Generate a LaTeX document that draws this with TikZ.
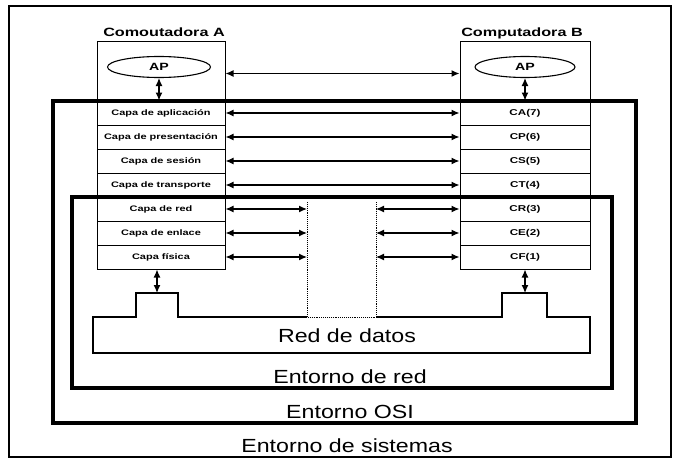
\documentclass[tikz,border=0pt]{standalone}
\usepackage{fontspec}
\setmainfont{Liberation Sans}
\newfontfamily\bigfont[FakeStretch=1.22]{Liberation Sans}
\newfontfamily\compfont[FakeStretch=1.35]{Liberation Sans Bold}
\newfontfamily\rowfont[FakeStretch=1.37]{Liberation Sans Bold}
\usetikzlibrary{arrows.meta,shapes.geometric,calc}
\begin{document}
\begin{tikzpicture}[x=1pt,y=-1pt,
  rowbox/.style={draw,line width=1pt,minimum width=128pt,minimum height=24pt,inner sep=0pt,font=\rowfont\fontsize{8}{9}\selectfont},
  rowboxb/.style={rowbox,minimum width=130pt,font=\rowfont\fontsize{8.5}{9}\selectfont},
  topbox/.style={draw,line width=1pt,minimum height=59pt,inner sep=0pt},
  apnode/.style={draw,ellipse,line width=1.1pt,minimum height=21pt,inner sep=0pt,font=\compfont\fontsize{10.5}{12}\selectfont},
  frame/.style={line width=3.8pt},
  thinframe/.style={line width=2pt},
  dbl/.style={{Latex[length=8pt,width=7pt]}-{Latex[length=8pt,width=7pt]},line width=1.2pt},
  big/.style={font=\bigfont\fontsize{19}{22}\selectfont,inner sep=0pt,anchor=base},
  comp/.style={font=\compfont\fontsize{12}{14}\selectfont,inner sep=0pt,anchor=base},
  net/.style={line width=1.2pt},
  dots/.style={densely dotted,line width=0.9pt}
]
\useasboundingbox (0,0) rectangle (674,460);

% Computer A
\node[topbox,minimum width=128pt] (topA) at (161,71.5) {};
\node[rowbox] (a7) at (161,113) {Capa de aplicación};
\node[rowbox] (a6) at (161,137) {Capa de presentación};
\node[rowbox] (a5) at (161,161) {Capa de sesión};
\node[rowbox] (a4) at (161,185) {Capa de transporte};
\node[rowbox] (a3) at (161,209) {Capa de red};
\node[rowbox] (a2) at (161,233) {Capa de enlace};
\node[rowbox] (a1) at (161,257) {Capa física};
\node[apnode,minimum width=103pt] (apA) at (159,67) {AP};

% Computer B
\node[topbox,minimum width=130pt] (topB) at (525,71.5) {};
\node[rowboxb] (b7) at (525,113) {CA(7)};
\node[rowboxb] (b6) at (525,137) {CP(6)};
\node[rowboxb] (b5) at (525,161) {CS(5)};
\node[rowboxb] (b4) at (525,185) {CT(4)};
\node[rowboxb] (b3) at (525,209) {CR(3)};
\node[rowboxb] (b2) at (525,233) {CE(2)};
\node[rowboxb] (b1) at (525,257) {CF(1)};
\node[apnode,minimum width=100pt] (apB) at (525,67) {AP};

% labels
\node[comp] (lA) at (164,37) {Comoutadora A};
\node[comp] (lB) at (522,37) {Computadora B};

% frames
\draw[thinframe] (9,6) rectangle (671,457);
\draw[frame] (53,101) rectangle (636,423);
\draw[frame] (72,197) rectangle (612,388);

% network
\coordinate (bumpA) at (157,293);
\coordinate (bumpB) at (525,293);
\coordinate (dL) at (307,202);
\coordinate (dR) at (376,202);
\draw[net] (307,317) -- (178,317) -- (178,293) -- (136,293) -- (136,317) -- (93,317) -- (93,353) -- (590,353) -- (590,317) -- (547,317) -- (547,293) -- (502,293) -- (502,317) -- (376,317);
\draw[dots] (dL) -- (307,317) -- (376,317) -- (dR);

% arrows
\draw[dbl] ([yshift=-2pt]topA.east) -- ([yshift=-2pt]topB.west);
\draw[dbl] (apA.south) -- (apA.south |- a7.north);
\draw[dbl] (apB.south) -- (apB.south |- b7.north);
\foreach \i in {7,6,5,4}{\draw[dbl] (a\i.east) -- (b\i.west);}
\foreach \i in {3,2,1}{
  \draw[dbl] (a\i.east) -- (a\i.east -| dL);
  \draw[dbl] (b\i.west -| dR) -- (b\i.west);
}
\draw[dbl] (a1.south -| bumpA) -- (bumpA);
\draw[dbl] (b1.south -| bumpB) -- (bumpB);

% environment labels
\node[big] (lred) at (347,342) {Red de datos};
\node[big] (lenr) at (350,383) {Entorno de red};
\node[big] (losi) at (350,418) {Entorno OSI};
\node[big] (lsis) at (347,452) {Entorno de sistemas};
\end{tikzpicture}
\end{document}
